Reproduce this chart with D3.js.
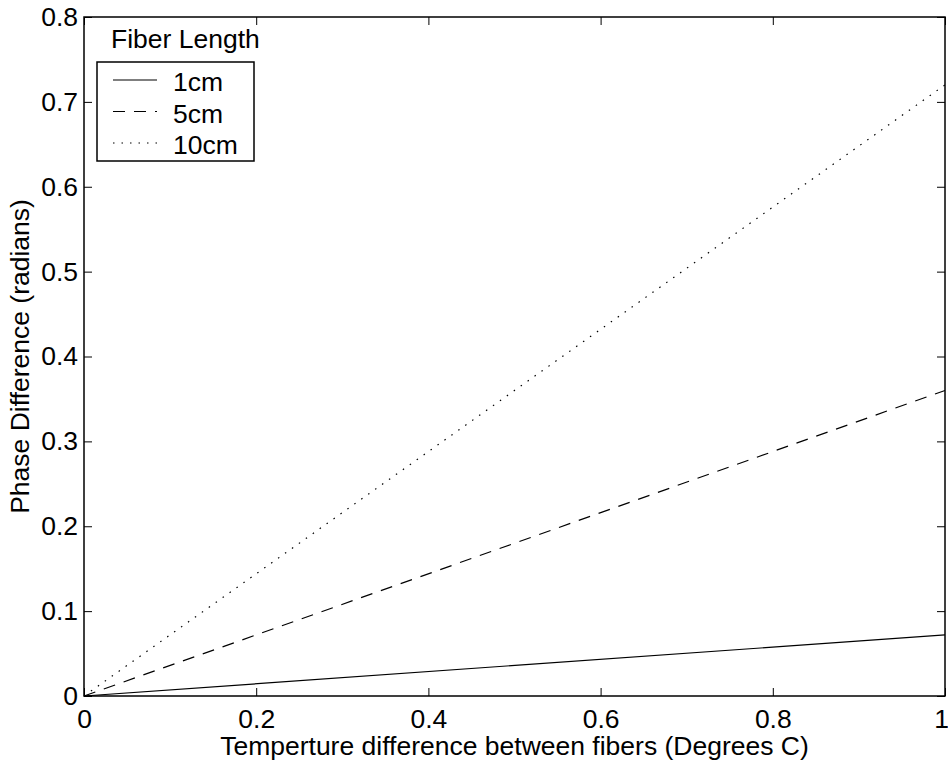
<!DOCTYPE html>
<html>
<head>
<meta charset="utf-8">
<script src="https://d3js.org/d3.v7.min.js"></script>
<style>
  body { margin: 0; background: #fff; }
  text { font-family: "Liberation Sans", Arial, Helvetica, sans-serif; fill: #000; }
</style>
</head>
<body>
<div id="chart"></div>
<script>
// Data
const temperatureDiff = [0, 1];
const fiber1cm = [0, 0.072];
const fiber5cm = [0, 0.36];
const fiber10cm = [0, 0.72];
const seriesNames = ["1cm", "5cm", "10cm"];
const xTicks = [0, 0.2, 0.4, 0.6, 0.8, 1];
const yTicks = [0, 0.1, 0.2, 0.3, 0.4, 0.5, 0.6, 0.7, 0.8];

const width = 948, height = 765;
const margin = { top: 17, right: 3, bottom: 69, left: 84 };
const innerW = width - margin.left - margin.right;
const innerH = height - margin.top - margin.bottom;
const fontSize = "26.5px";

const svg = d3.select("#chart").append("svg")
  .attr("width", width)
  .attr("height", height);

const g = svg.append("g")
  .attr("transform", "translate(" + margin.left + "," + margin.top + ")");

const x = d3.scaleLinear().domain([0, 1]).range([0, innerW]);
const y = d3.scaleLinear().domain([0, 0.8]).range([innerH, 0]);

const fmt = (d) => (d === 0 ? "0" : d === 1 ? "1" : String(d));

// Axes: ticks pointing inward, mirrored on top and right
const tickLen = 8;
const xAxis = g.append("g")
  .attr("transform", "translate(0," + innerH + ")")
  .call(d3.axisBottom(x).tickValues(xTicks).tickFormat(fmt).tickSize(-tickLen).tickPadding(13))
  .call((a) => a.select(".domain").remove());
// last label sits at the window edge, pull it in so it is not clipped
xAxis.selectAll(".tick text").filter((d) => d === 1).attr("dx", -4);

g.append("g")
  .call(d3.axisTop(x).tickValues(xTicks).tickFormat("").tickSize(-tickLen))
  .call((a) => a.select(".domain").remove());
g.append("g")
  .call(d3.axisLeft(y).tickValues(yTicks).tickFormat(fmt).tickSize(-tickLen).tickPadding(6))
  .call((a) => a.select(".domain").remove());
g.append("g")
  .attr("transform", "translate(" + innerW + ",0)")
  .call(d3.axisRight(y).tickValues(yTicks).tickFormat("").tickSize(-tickLen))
  .call((a) => a.select(".domain").remove());

g.selectAll(".tick text").style("font-size", fontSize);
g.selectAll(".tick line").attr("stroke", "#000");

// plot frame
g.append("rect")
  .attr("width", innerW)
  .attr("height", innerH)
  .attr("fill", "none")
  .attr("stroke", "#000")
  .attr("stroke-width", 1.5);

// Lines
const dashes = ["none", "12,9", "1.5,7"];
const seriesData = [fiber1cm, fiber5cm, fiber10cm];
const line = d3.line()
  .x((d, i) => x(temperatureDiff[i]))
  .y((d) => y(d));

g.selectAll(".series")
  .data(seriesData)
  .enter()
  .append("path")
  .attr("class", "series")
  .attr("d", line)
  .attr("fill", "none")
  .attr("stroke", "#000")
  .attr("stroke-width", 1.2)
  .attr("stroke-dasharray", (d, i) => dashes[i]);

// Legend
const legend = g.append("g").attr("transform", "translate(13,0)");
legend.append("text")
  .attr("x", 14)
  .attr("y", 31)
  .style("font-size", fontSize)
  .text("Fiber Length");
legend.append("rect")
  .attr("x", 0)
  .attr("y", 45)
  .attr("width", 157)
  .attr("height", 99)
  .attr("fill", "#fff")
  .attr("stroke", "#000")
  .attr("stroke-width", 1.5);

seriesNames.forEach((name, i) => {
  const ly = 63 + i * 31.5;
  legend.append("line")
    .attr("x1", 16).attr("x2", 60)
    .attr("y1", ly).attr("y2", ly)
    .attr("stroke", "#000")
    .attr("stroke-width", 1.2)
    .attr("stroke-dasharray", dashes[i]);
  legend.append("text")
    .attr("x", 76)
    .attr("y", ly + 11)
    .style("font-size", fontSize)
    .text(name);
});

// Axis labels
svg.append("text")
  .attr("x", margin.left + innerW / 2)
  .attr("y", 755)
  .attr("text-anchor", "middle")
  .style("font-size", fontSize)
  .text("Temperture difference between fibers (Degrees C)");

svg.append("text")
  .attr("transform", "translate(29," + (margin.top + innerH / 2) + ") rotate(-90)")
  .attr("text-anchor", "middle")
  .style("font-size", fontSize)
  .text("Phase Difference (radians)");
</script>
</body>
</html>
